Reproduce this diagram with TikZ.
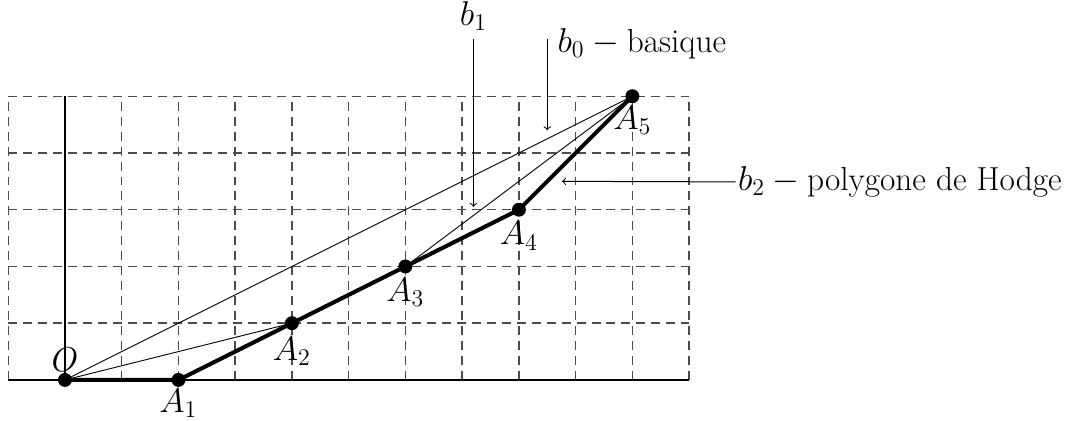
\documentclass[tikz,border=0pt]{standalone}
\usetikzlibrary{calc}
\begin{document}
\begin{tikzpicture}[
  font=\fontsize{16.7}{19}\selectfont,
  griddash/.style={draw=black!70, line width=0.7pt, dash pattern=on 4.5pt off 3pt},
  axisline/.style={draw=black, line width=0.6pt},
  thinline/.style={draw=black, line width=0.45pt},
  thickline/.style={draw=black, line width=2pt},
  ptdot/.style={circle, fill=black, inner sep=0pt, minimum size=7pt},
  ptlabel/.style={inner sep=1pt},
  pointer/.style={draw=black, line width=0.5pt, -to}
]
\useasboundingbox (-1.145,-0.722) rectangle (18.03,6.696);
\draw[griddash] (-1,0) grid (11,5);
\draw[axisline] (-1,0) -- (11,0);
\draw[axisline] (0,0) -- (0,5);

\coordinate (O) at (0,0);
\coordinate (A1) at (2,0);
\coordinate (A2) at (4,1);
\coordinate (A3) at (6,2);
\coordinate (A4) at (8,3);
\coordinate (A5) at (10,5);

\draw[thinline] (O) -- (A5);
\draw[thinline] (O) -- (A2);
\draw[thinline] (A3) -- (A5);
\draw[thickline] (O) -- (A1) -- (A2) -- (A3) -- (A4) -- (A5);

\foreach \p in {O,A1,A2,A3,A4,A5} \node[ptdot] (d\p) at (\p) {};

\node[ptlabel] (lO) at ($(O)+(0,0.36)$) {$O$};
\node[ptlabel] (lA1) at ($(A1)+(0,-0.41)$) {$A_1$};
\node[ptlabel] (lA2) at ($(A2)+(0,-0.5)$) {$A_2$};
\node[ptlabel] (lA3) at ($(A3)+(0,-0.46)$) {$A_3$};
\node[ptlabel] (lA4) at ($(A4)+(0,-0.46)$) {$A_4$};
\node[ptlabel] (lA5) at ($(A5)+(0,-0.42)$) {$A_5$};

\coordinate (b1s) at (7.2,6);
\coordinate (b1e) at (7.2,3.05);
\node[ptlabel] (b1) at (7.2,6.41) {$b_1$};
\draw[pointer] (b1s) -- (b1e);

\coordinate (b0s) at (8.5,6);
\coordinate (b0e) at (8.5,4.4);
\node[ptlabel, anchor=west] (b0) at (8.64,5.92) {$b_0 -{}$basique};
\draw[pointer] (b0s) -- (b0e);

\coordinate (b2e) at (8.76,3.5);
\node[ptlabel, anchor=west] (b2) at (11.82,3.49) {$b_2 -{}$polygone de Hodge};
\draw[pointer] (b2.west) -- (b2e);
\end{tikzpicture}
\end{document}
